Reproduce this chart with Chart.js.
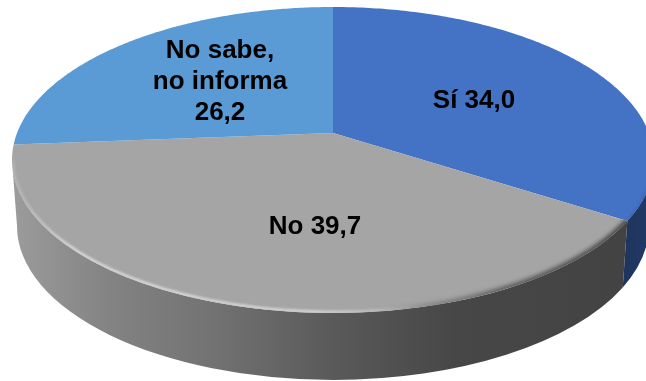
<!DOCTYPE html>
<html>
<head>
<meta charset="utf-8">
<script src="https://cdn.jsdelivr.net/npm/chart.js@4/dist/chart.umd.min.js"></script>
<style>
  html, body { margin: 0; padding: 0; background: #fff; overflow: hidden; }
  canvas { display: block; }
</style>
</head>
<body>
<canvas id="myChart" width="646" height="381"></canvas>
<script>
let categories = [['Sí'], ['No'], ['No sabe,', 'no informa']];
let values = [34.0, 39.7, 26.2];
let colors = ['#4472c4', '#a5a5a5', '#5b9bd5'];

// top face ellipse, bottom ellipse of the wall, apex shift from the perspective
const top_face = { x: 333, y: 160, rx: 321, ry: 153 };
const bottom_face = { x: 333, y: 226, rx: 316, ry: 154 };
const apex_shift = (133 - 160) / 153;
const label_centers = [[474, 101], [315, 227], [220, 82]];
const line_height = 31;

// unit circle angle -> point on the top face, apex moved off the ellipse centre
function project(t) {
    let a = apex_shift;
    let c = Math.cos(t), s = Math.sin(t);
    let d = 1 + a * s;
    let x = c * Math.sqrt(1 - a * a) / d;
    let y = (s + a) / d;
    return [top_face.x + x * top_face.rx, top_face.y + y * top_face.ry];
}

function rimAngle(t) {
    let p = project(t);
    return Math.atan2((p[1] - top_face.y) / top_face.ry, (p[0] - top_face.x) / top_face.rx);
}

function wallPath(ctx, u0, u1) {
    ctx.beginPath();
    ctx.ellipse(top_face.x, top_face.y, top_face.rx, top_face.ry, 0, u0, u1, false);
    ctx.ellipse(bottom_face.x, bottom_face.y, bottom_face.rx, bottom_face.ry, 0, u1, u0, true);
    ctx.closePath();
}

function slicePath(ctx, arc) {
    let steps = 160;
    ctx.beginPath();
    ctx.moveTo(top_face.x, top_face.y + apex_shift * top_face.ry);
    for (let i = 0; i <= steps; i++) {
        let t = arc.startAngle + (arc.endAngle - arc.startAngle) * i / steps;
        let p = project(t);
        ctx.lineTo(p[0], p[1]);
    }
    ctx.closePath();
}

const pie3d = {
    id: 'pie3d',
    beforeDatasetDraw(chart) {
        let ctx = chart.ctx;
        let arcs = chart.getDatasetMeta(0).data;
        let seam = rimAngle(arcs[0].endAngle);

        // walls
        let blue_wall = ctx.createLinearGradient(600, 0, 646, 0);
        blue_wall.addColorStop(0, '#1c3157');
        blue_wall.addColorStop(1, '#203864');
        wallPath(ctx, 0, seam);
        ctx.fillStyle = blue_wall;
        ctx.fill();

        let gray_wall = ctx.createLinearGradient(12, 0, 625, 0);
        gray_wall.addColorStop(0, '#9c9c9c');
        gray_wall.addColorStop(0.15, '#848484');
        gray_wall.addColorStop(0.33, '#727272');
        gray_wall.addColorStop(0.52, '#5a5a5a');
        gray_wall.addColorStop(0.72, '#474747');
        gray_wall.addColorStop(1, '#434343');
        wallPath(ctx, seam, Math.PI);
        ctx.fillStyle = gray_wall;
        ctx.fill();

        // top face
        arcs.forEach(arc => {
            slicePath(ctx, arc);
            ctx.fillStyle = arc.options.backgroundColor;
            ctx.fill();
        });

        // bevel along the front rim: light on the left, dark fading in on the right
        ctx.save();
        slicePath(ctx, arcs[1]);
        ctx.clip();
        let light = ctx.createLinearGradient(12, 0, 625, 0);
        light.addColorStop(0, 'rgba(225,225,225,0.2)');
        light.addColorStop(0.1, 'rgba(225,225,225,0.85)');
        light.addColorStop(0.5, 'rgba(225,225,225,0.8)');
        light.addColorStop(0.68, 'rgba(225,225,225,0)');
        ctx.filter = 'blur(1px)';
        ctx.beginPath();
        ctx.ellipse(top_face.x, top_face.y, top_face.rx - 1, top_face.ry - 1, 0, seam, Math.PI, false);
        ctx.strokeStyle = light;
        ctx.lineWidth = 3;
        ctx.stroke();

        let dark = ctx.createLinearGradient(380, 0, 625, 0);
        dark.addColorStop(0, 'rgba(68,68,68,0)');
        dark.addColorStop(0.5, 'rgba(68,68,68,0.75)');
        dark.addColorStop(1, 'rgba(68,68,68,1)');
        ctx.filter = 'blur(2px)';
        ctx.beginPath();
        ctx.ellipse(top_face.x, top_face.y, top_face.rx, top_face.ry, 0, seam - 0.1, Math.PI, false);
        ctx.strokeStyle = dark;
        ctx.lineWidth = 6;
        ctx.stroke();
        ctx.restore();

        ctx.save();
        slicePath(ctx, arcs[0]);
        ctx.clip();
        ctx.filter = 'blur(1px)';
        ctx.beginPath();
        ctx.ellipse(top_face.x, top_face.y, top_face.rx, top_face.ry, 0, -0.2, seam, false);
        ctx.strokeStyle = '#3a62aa';
        ctx.lineWidth = 2;
        ctx.stroke();
        ctx.restore();

        return false;
    },
    afterDatasetsDraw(chart) {
        let ctx = chart.ctx;
        ctx.save();
        ctx.fillStyle = '#000';
        ctx.font = 'bold 26px "Liberation Sans", Arial, sans-serif';
        ctx.textAlign = 'center';
        ctx.textBaseline = 'middle';
        values.forEach((v, i) => {
            let text = v.toFixed(1).replace('.', ',');
            let lines = categories[i].slice();
            if (lines.length > 1) {
                lines.push(text);
            } else {
                lines = [lines[0] + ' ' + text];
            }
            let y = label_centers[i][1] - (lines.length - 1) * line_height / 2;
            lines.forEach((line, k) => {
                ctx.fillText(line, label_centers[i][0], y + k * line_height);
            });
        });
        ctx.restore();
    }
};

let config = {
    type: 'pie',
    data: {
        labels: categories.map(c => c.join(' ')),
        datasets: [{
            data: values,
            backgroundColor: colors,
            borderWidth: 0
        }]
    },
    options: {
        responsive: false,
        animation: false,
        events: [],
        plugins: {
            legend: { display: false },
            title: { display: false },
            tooltip: { enabled: false }
        }
    },
    plugins: [pie3d]
};

let myChart = new Chart(document.getElementById('myChart'), config);
</script>
</body>
</html>
